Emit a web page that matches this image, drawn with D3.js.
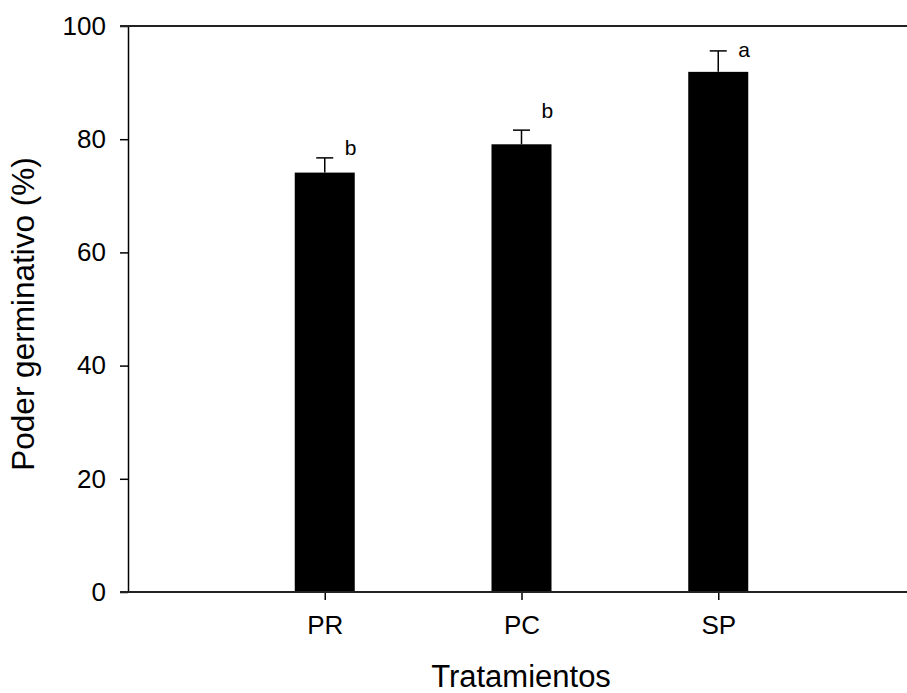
<!DOCTYPE html>
<html>
<head>
<meta charset="utf-8">
<script src="https://cdn.jsdelivr.net/npm/d3@7"></script>
<style>
html,body{margin:0;padding:0;background:#fff;}
svg{display:block;}
text{font-family:"Liberation Sans",Arial,sans-serif;fill:#000;}
</style>
</head>
<body>
<svg id="chart" width="907" height="693"></svg>
<script>
const categories = ["PR", "PC", "SP"];
const values = [74.1, 79.1, 91.9];
const errors = [2.6, 2.5, 3.7];
const letters = ["b", "b", "a"];
const letterValues = [77.2, 83.7, 94.6];
const yTicks = [0, 20, 40, 60, 80, 100];

const svg = d3.select("#chart");
const mLeft = 128, mRight = 915, mTop = 26, mBottom = 592;

const x = d3.scalePoint().domain(categories).range([mLeft, mRight]).padding(1);
const y = d3.scaleLinear().domain([0, 100]).range([mBottom, mTop]);
const barW = 60;

// bars
svg.selectAll("rect.bar").data(categories).enter().append("rect")
  .attr("x", (d) => x(d) - barW / 2)
  .attr("y", (d, i) => y(values[i]))
  .attr("width", barW)
  .attr("height", (d, i) => y(0) - y(values[i]))
  .attr("fill", "#000");

// error bars (upward only)
const eb = svg.selectAll("g.err").data(categories).enter().append("g");
eb.append("line")
  .attr("x1", d => x(d)).attr("x2", d => x(d))
  .attr("y1", (d, i) => y(values[i])).attr("y2", (d, i) => y(values[i] + errors[i]))
  .attr("stroke", "#000").attr("stroke-width", 1.5);
eb.append("line")
  .attr("x1", d => x(d) - 8.5).attr("x2", d => x(d) + 8.5)
  .attr("y1", (d, i) => y(values[i] + errors[i])).attr("y2", (d, i) => y(values[i] + errors[i]))
  .attr("stroke", "#000").attr("stroke-width", 1.5);

// letters
svg.selectAll("text.letter").data(categories).enter().append("text")
  .attr("x", (d) => x(d) + 20)
  .attr("y", (d, i) => y(letterValues[i]))
  .attr("font-size", 21)
  .text((d, i) => letters[i]);

// y axis
const yAxis = svg.append("g").attr("transform", `translate(${mLeft},0)`)
  .call(d3.axisLeft(y).tickValues(yTicks).tickSize(8).tickPadding(14).tickSizeOuter(0));
yAxis.select(".domain").attr("stroke", "#000").attr("stroke-width", 1.5);
yAxis.selectAll(".tick line").attr("stroke", "#000").attr("stroke-width", 1.5);
yAxis.selectAll(".tick text").attr("font-size", 26).attr("font-family", "Liberation Sans, Arial, sans-serif").attr("fill", "#000");

// x axis
const xAxis = svg.append("g").attr("transform", `translate(0,${mBottom})`)
  .call(d3.axisBottom(x).tickSize(8).tickPadding(16).tickSizeOuter(0));
xAxis.select(".domain").remove();
xAxis.selectAll(".tick line").attr("stroke", "#000").attr("stroke-width", 1.5);
xAxis.selectAll(".tick text").attr("font-size", 26).attr("font-family", "Liberation Sans, Arial, sans-serif").attr("fill", "#000");

// frame lines: bottom and top
svg.append("line").attr("x1", mLeft - 8).attr("x2", 907).attr("y1", mBottom).attr("y2", mBottom)
  .attr("stroke", "#222").attr("stroke-width", 2);
svg.append("line").attr("x1", mLeft - 8).attr("x2", 907).attr("y1", mTop).attr("y2", mTop)
  .attr("stroke", "#222").attr("stroke-width", 2);

// titles
svg.append("text").attr("x", (mLeft + mRight) / 2 - 0.5).attr("y", 687)
  .attr("text-anchor", "middle").attr("font-size", 31).text("Tratamientos");
svg.append("text").attr("transform", `translate(34,314) rotate(-90)`)
  .attr("text-anchor", "middle").attr("font-size", 31.5).text("Poder germinativo (%)");
</script>
</body>
</html>
